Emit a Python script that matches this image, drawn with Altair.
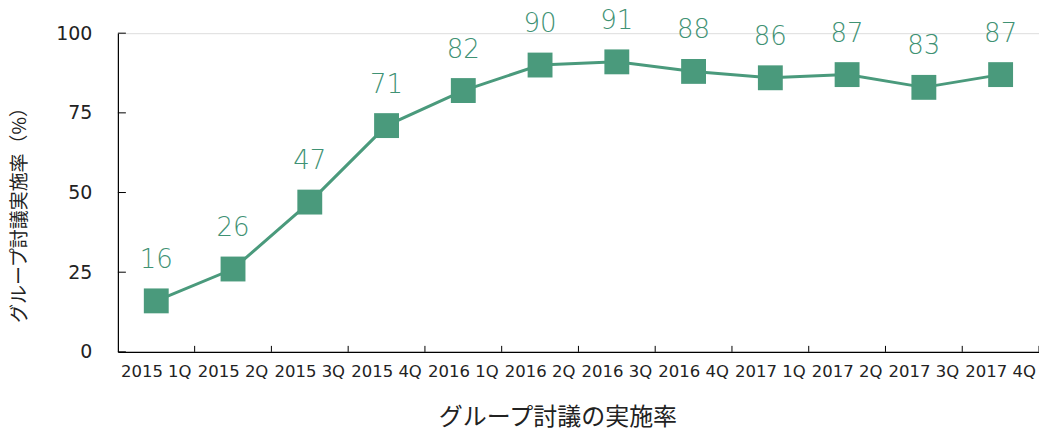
import altair as alt
import pandas as pd

quarters = ["2015 1Q", "2015 2Q", "2015 3Q", "2015 4Q", "2016 1Q", "2016 2Q",
            "2016 3Q", "2016 4Q", "2017 1Q", "2017 2Q", "2017 3Q", "2017 4Q"]
rates = [16, 26, 47, 71, 82, 90, 91, 88, 86, 87, 83, 87]
ytick_values = [0, 25, 50, 75, 100]

GREEN = "#4a9a7c"
FONT = "Noto Sans CJK JP"
NUMFONT = "DejaVu Sans"

df = pd.DataFrame({"q": quarters, "v": rates})
dticks = pd.DataFrame({"t": ytick_values})

W, H = 922, 319

xenc = alt.X("q:N", sort=quarters, scale=alt.Scale(paddingInner=0, paddingOuter=0),
             axis=alt.Axis(title="グループ討議の実施率", ticks=False, tickSize=0,
                           labelAngle=0, labelFontSize=16.5, labelColor="#222",
                           labelFont=NUMFONT, labelPadding=12,
                           domainColor="#000", domainWidth=1.2,
                           titleFontSize=24, titleFont=FONT, titleFontWeight="normal",
                           titleColor="#222", titleX=440, titleY=66,
                           titleBaseline="middle", grid=False))
yenc = alt.Y("v:Q", scale=alt.Scale(domain=[0, 100], nice=False),
             axis=alt.Axis(title="グループ討議実施率（%）", values=ytick_values,
                           ticks=False, tickSize=0, labelFontSize=19,
                           labelColor="#222", labelFont=NUMFONT, labelPadding=26,
                           domainColor="#000", domainWidth=1.2,
                           titleFontSize=19, titleFont=FONT, titleFontWeight="normal",
                           titleColor="#222", titleX=-98, titleY=177,
                           titleBaseline="middle", grid=False))

base = alt.Chart(df)
line = base.mark_line(color=GREEN, strokeWidth=3).encode(x=xenc, y=yenc)
pts = base.mark_point(shape="square", filled=True, opacity=1, size=620,
                      color=GREEN).encode(x=xenc, y=yenc)
labels = base.mark_text(color="#3f9274", fontSize=26, font=NUMFONT, fontWeight=200,
                        baseline="middle", dy=-41).encode(x=xenc, y=yenc, text="v:Q")

yticks = alt.Chart(dticks).mark_rule(color="#000", strokeWidth=1).encode(
    y=alt.Y("t:Q", scale=alt.Scale(domain=[0, 100], nice=False)),
    x=alt.value(0), x2=alt.value(8))
xticks = base.mark_rule(color="#000", strokeWidth=1).encode(
    x=alt.X("q:N", sort=quarters, bandPosition=1),
    y=alt.value(H - 6), y2=alt.value(H))

chart = alt.layer(line, pts, labels, yticks, xticks).properties(
    width=W, height=H,
    autosize=alt.AutoSizeParams(type="none"),
    padding={"left": 118, "top": 33, "right": 0, "bottom": 83},
).configure_view(stroke=None).configure(background="white")

chart.save("out.html", embed_options={"renderer": "svg", "actions": False})
